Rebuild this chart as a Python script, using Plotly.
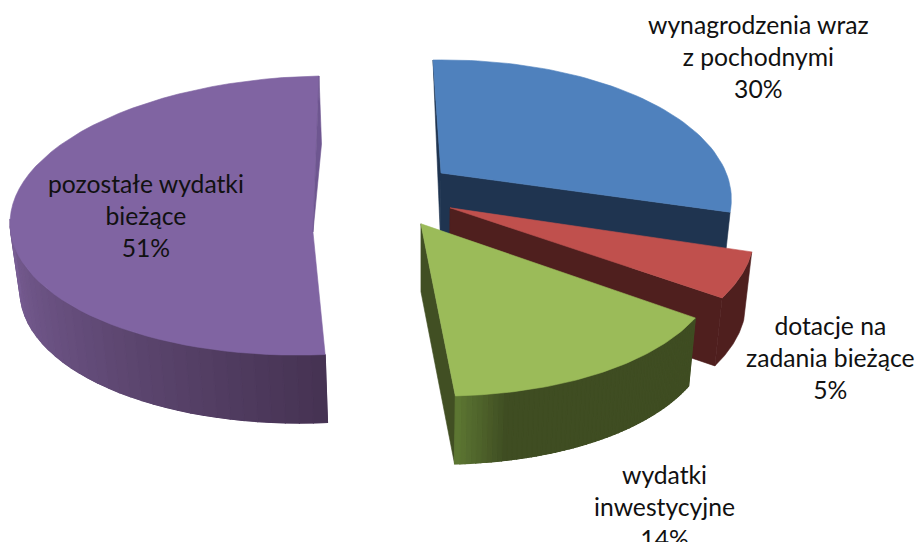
import numpy as np
import plotly.graph_objects as go

# ---- data
categories = ["wynagrodzenia wraz<br>z pochodnymi", "dotacje na<br>zadania bieżące",
              "wydatki<br>inwestycyjne", "pozostałe wydatki<br>bieżące"]
values = [30, 5, 14, 51]

# ---- styling and 3-D projection parameters (one per slice)
top_colors = ["#4f81bd", "#c0504d", "#9bbb59", "#8064a2"]
wall_base = ["#1f3450", "#4f1f1e", "#3f4d22", "#5c4672"]
wall_light = ["#1f3450", "#4f1f1e", "#5f7a34", "#7a5f96"]
wall_dark = ["#1f3450", "#4f1f1e", "#3f4d22", "#463353"]
cut_colors = ["#1f3450", "#4f1f1e", "#414f23", "#6e5690"]
centers = [(442.9, 199.5), (447.7, 240.0), (423.0, 256.0), (313.6, 215.5)]
u_axes = [(288.3, -5.0), (306.0, 0.0), (295.0, 4.4), (303.5, -5.0)]
v_axes = [(-9.9, -139.5), (10.0, -140.0), (-9.0, -140.0), (5.4, -139.5)]
persp = [0.19, 0.23, 0.23, -0.118]
DEPTH = 68.0
VP_K, VP_X = 0.0243, 422.0
label_xy = [(758, 56), (830, 357), (664, 506), (146, 215)]
FONT = "Lato"
FONT_SIZE = 24.7


def project(i, theta):
    """Map a pie angle (radians, clockwise from 12 o'clock) to the canvas."""
    s, c = np.sin(theta), np.cos(theta)
    e = persp[i]
    d = 1 + e * c
    xp = s * np.sqrt(1 - e * e) / d
    yp = (c + e) / d
    return (centers[i][0] + xp * u_axes[i][0] + yp * v_axes[i][0],
            centers[i][1] + xp * u_axes[i][1] + yp * v_axes[i][1])


def drop(p):
    return (p[0] + VP_K * (VP_X - p[0]), p[1] + DEPTH)


def mix(a, b, t):
    ca = [int(a[j:j + 2], 16) for j in (1, 3, 5)]
    cb = [int(b[j:j + 2], 16) for j in (1, 3, 5)]
    return "#%02x%02x%02x" % tuple(round(x + (y - x) * t) for x, y in zip(ca, cb))


fig = go.Figure()


def poly(points, color, name, line=0.6):
    xs = [p[0] for p in points] + [points[0][0]]
    ys = [p[1] for p in points] + [points[0][1]]
    fig.add_trace(go.Scatter(x=xs, y=ys, mode="lines", fill="toself", fillcolor=color,
                             line=dict(color=color, width=line), hoverinfo="skip",
                             name=name, showlegend=False))


fractions = np.cumsum([0] + values) / sum(values)
draw_order = [3, 0, 1, 2]
for i in draw_order:
    a0, a1 = 2 * np.pi * fractions[i], 2 * np.pi * fractions[i + 1]
    name = categories[i].replace("<br>", " ")
    apex = (centers[i][0] + persp[i] * v_axes[i][0], centers[i][1] + persp[i] * v_axes[i][1])
    n_steps = 60
    arc = [project(i, t) for t in np.linspace(a0, a1, n_steps + 1)]

    # cut faces that are seen beside or in front of the slice
    if i == 0:
        poly([arc[0], apex, drop(apex)], cut_colors[i], name)
        poly([apex, arc[-1], drop(arc[-1]), drop(apex)], wall_base[i], name)
    if i in (1, 2):
        poly([apex, arc[-1], drop(arc[-1]), drop(apex)], cut_colors[i], name)

    # curved outer wall: solid band, then shaded steps
    last = 33 if i == 3 else n_steps
    band = arc[:last + 1]
    if i != 0:
        poly(band + [drop(p) for p in reversed(band)], wall_base[i], name)
    if i in (2, 3):
        for k in range(last):
            a, b = arc[k], arc[k + 1]
            if i == 3:
                col = mix(wall_dark[i], wall_light[i], k / last)
            else:
                col = mix(wall_dark[i], wall_light[i], max(0.0, (k - 50) / 10))
            poly([a, b, drop(b), drop(a)], col, name, line=1.2)

    # top face
    poly([apex] + arc, top_colors[i], name)
    if i == 3:
        poly([arc[-1], drop(arc[-1]), apex], cut_colors[i], name)

for i, name in enumerate(categories):
    fig.add_annotation(x=label_xy[i][0], y=label_xy[i][1], xref="x", yref="y",
                       text=f"{name}<br>{values[i]}%", showarrow=False, align="center",
                       xanchor="center", yanchor="middle",
                       font=dict(family=FONT, size=FONT_SIZE, color="#111111"))

fig.update_layout(width=917, height=542, margin=dict(l=0, r=0, t=0, b=0),
                  paper_bgcolor="white", plot_bgcolor="white", showlegend=False,
                  xaxis=dict(range=[0, 917], visible=False, fixedrange=True),
                  yaxis=dict(range=[542, 0], visible=False, fixedrange=True))
fig.write_html("out.html", config=dict(displayModeBar=False),
               post_script="document.body.style.margin='0';document.body.style.overflow='hidden';")
